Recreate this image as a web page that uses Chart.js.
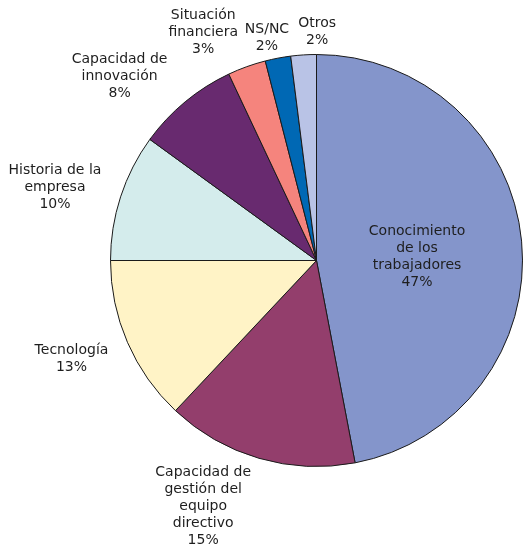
<!DOCTYPE html>
<html>
<head>
<meta charset="utf-8">
<script src="https://cdn.jsdelivr.net/npm/chart.js@4"></script>
<style>
  html, body { margin: 0; padding: 0; background: #fff; }
  #wrap { width: 523px; height: 551px; }
</style>
</head>
<body>
<div id="wrap"><canvas id="pieChart" width="523" height="551"></canvas></div>
<script>
// categorías (cada una puede ocupar varias líneas)
const categories = [
    ["Conocimiento", "de los", "trabajadores"],
    ["Capacidad de", "gestión del", "equipo", "directivo"],
    ["Tecnología"],
    ["Historia de la", "empresa"],
    ["Capacidad de", "innovación"],
    ["Situación", "financiera"],
    ["NS/NC"],
    ["Otros"]
];
const percentages = [47, 15, 13, 10, 8, 3, 2, 2];
const sliceColors = ["#8495cb", "#933e6c", "#fff3c6", "#d4ecec", "#682a6f", "#f5847d", "#0068b4", "#b9c3e6"];

// dónde va cada etiqueta: distancia relativa al radio + ajuste fino en px
const labelRadius = [0.495, 1.241, 1.296, 1.335, 1.157, 1.179, 1.102, 1.114];
const labelShift = [[-1, 6], [-42, 0], [0, -8], [0, 12], [-45, 0], [-31, 0], [-7, 0], [15, 0]];

const lineHeight = 17;

// dibuja el texto de cada porción a partir del arco
const sliceLabels = {
    id: "sliceLabels",
    afterDatasetsDraw(chart) {
        const ctx = chart.ctx;
        const meta = chart.getDatasetMeta(0);
        ctx.save();
        ctx.font = "14px 'DejaVu Sans', Verdana, sans-serif";
        ctx.fillStyle = "#1e1e1e";
        ctx.textAlign = "center";
        ctx.textBaseline = "middle";
        meta.data.forEach(function (arc, i) {
            const p = arc.getProps(["x", "y", "startAngle", "endAngle", "outerRadius"], true);
            const mid = (p.startAngle + p.endAngle) / 2;
            const dist = p.outerRadius * labelRadius[i];
            const cx = p.x + Math.cos(mid) * dist + labelShift[i][0];
            const cy = p.y + Math.sin(mid) * dist + labelShift[i][1];
            const lines = categories[i].concat([percentages[i] + "%"]);
            const top = cy - (lines.length - 1) * lineHeight / 2;
            lines.forEach(function (txt, j) {
                ctx.fillText(txt, cx, top + j * lineHeight);
            });
        });
        ctx.restore();
    }
};

new Chart(document.getElementById("pieChart").getContext("2d"), {
    type: "pie",
    data: {
        labels: categories.map(c => c.join(" ")),
        datasets: [{
            data: percentages,
            backgroundColor: sliceColors,
            borderColor: "#1a1a1a",
            borderWidth: 1
        }]
    },
    options: {
        responsive: false,
        animation: false,
        layout: {
            padding: { left: 110, right: 0, top: 54, bottom: 84 }
        },
        plugins: {
            legend: { display: false },
            tooltip: { enabled: false }
        }
    },
    plugins: [sliceLabels]
});
</script>
</body>
</html>
